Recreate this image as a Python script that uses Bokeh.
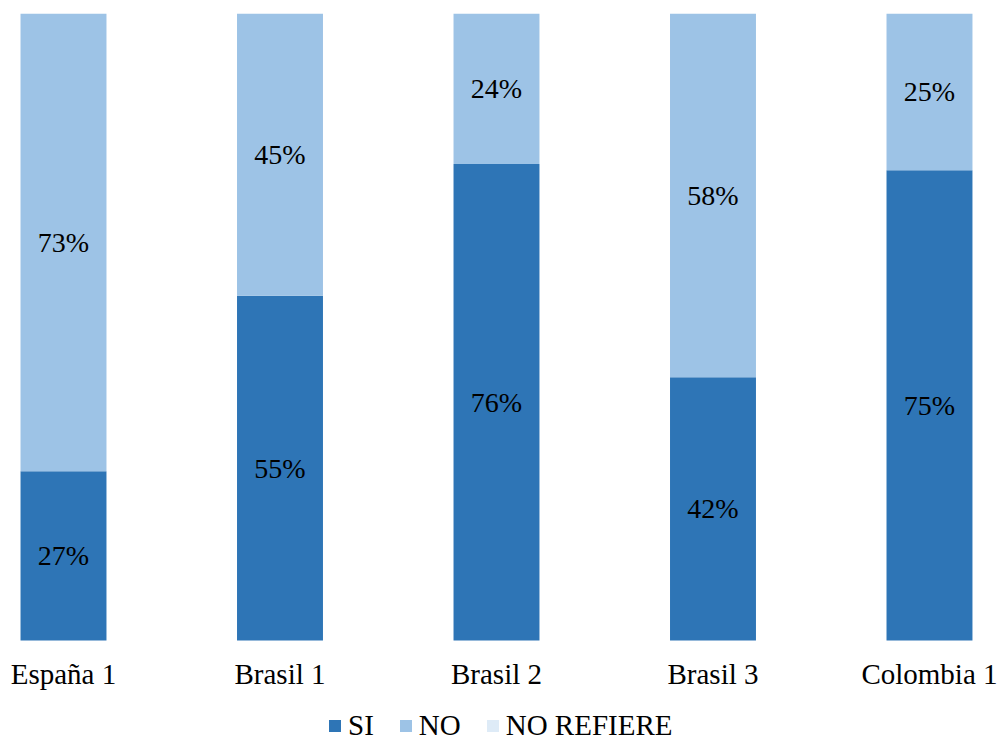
from bokeh.plotting import figure
from bokeh.models import Range1d, Legend, LegendItem, ColumnDataSource
from bokeh.core.properties import value
from bokeh.embed import file_html
from bokeh.resources import INLINE

categories = ["España 1", "Brasil 1", "Brasil 2", "Brasil 3", "Colombia 1"]
si = [27, 55, 76, 42, 75]
no = [73, 45, 24, 58, 25]
no_refiere = [0, 0, 0, 0, 0]
series = ["SI", "NO", "NO REFIERE"]
colors = ["#2E75B6", "#9DC3E6", "#DEEBF7"]

FONT = "Liberation Serif"
x = list(range(len(categories)))

p = figure(width=1000, height=742, output_backend="svg", toolbar_location=None,
           x_range=Range1d(-0.291, 4.328), y_range=Range1d(-16.268, 100),
           min_border_top=13, min_border_bottom=0, min_border_left=0, min_border_right=0)

src = ColumnDataSource(dict(x=x, SI=si, NO=no, NR=no_refiere))
rs = p.vbar_stack(["SI", "NO", "NR"], x="x", width=0.397, source=src,
                  color=colors, line_color=None)

# data labels
lab_x, lab_y, lab_t = [], [], []
for i in x:
    lab_x.append(i); lab_y.append(si[i] / 2); lab_t.append(f"{si[i]}%")
    lab_x.append(i); lab_y.append(si[i] + no[i] / 2); lab_t.append(f"{no[i]}%")
p.text(x=lab_x, y=lab_y, text=lab_t, text_align="center", text_baseline="middle",
       text_font=value(FONT), text_font_size="28px", text_color="black")

p.yaxis.visible = False
p.xaxis.fixed_location = 0
p.xaxis.ticker = x
p.xaxis.major_label_overrides = {i: c for i, c in zip(x, categories)}
p.xaxis.axis_line_color = None
p.xaxis.major_tick_line_color = None
p.xaxis.minor_tick_line_color = None
p.xaxis.major_label_standoff = 12
p.xaxis.major_label_text_font = FONT
p.xaxis.major_label_text_font_size = "29px"
p.xaxis.major_label_text_color = "black"
p.xgrid.visible = False
p.ygrid.visible = False
p.outline_line_color = None

legend = Legend(items=[LegendItem(label=s, renderers=[r]) for s, r in zip(series, rs)],
                orientation="horizontal", location=(327, 0),
                glyph_width=15, glyph_height=15, label_standoff=6, spacing=24,
                padding=0, margin=0, border_line_color=None, background_fill_alpha=0,
                label_text_font=FONT, label_text_font_size="29px", label_text_color="black")
p.add_layout(legend, "center")

open("out.html", "w").write(file_html(p, INLINE))
